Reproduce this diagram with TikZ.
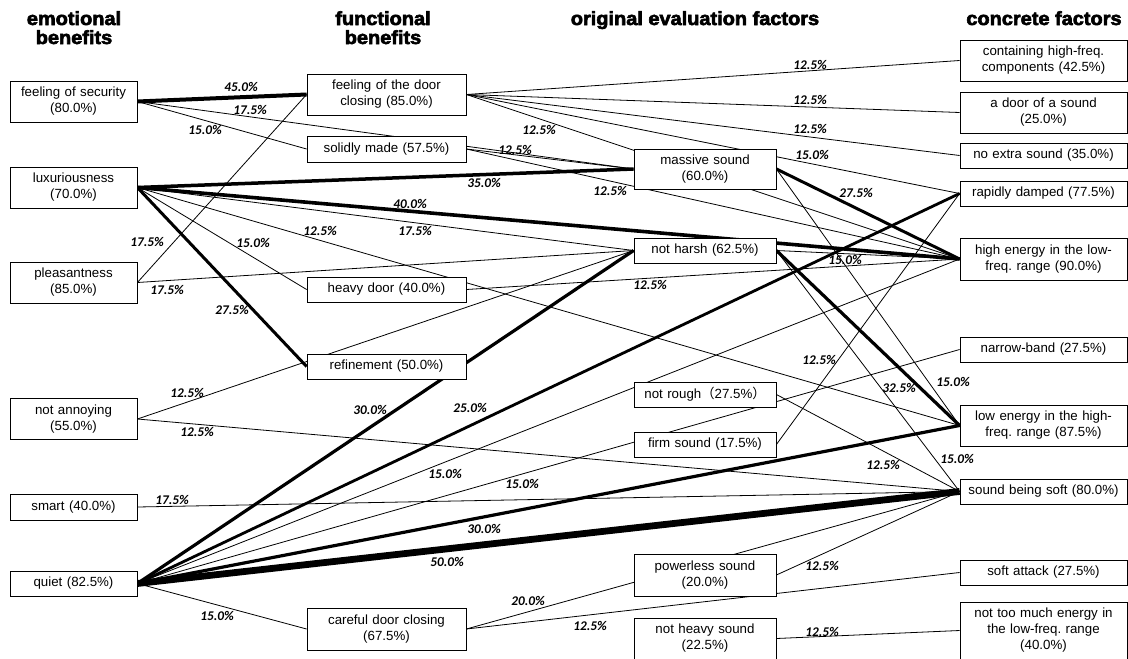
\documentclass[tikz,border=0pt]{standalone}
\usepackage{fontspec}
\setmainfont{Liberation Sans}
\newfontfamily\lblfont{Carlito}
\newfontfamily\hdrfont{Liberation Sans Bold}[FakeBold=3.2,FakeStretch=1.05]
\newfontfamily\cjkfont{Noto Sans CJK SC}
\usetikzlibrary{backgrounds}
\frenchspacing
\tikzset{
  box/.style={draw, line width=0.8pt, fill=white, inner sep=0pt, align=center,
    font=\fontsize{13.3}{16}\selectfont},
  ca/.style={box, minimum width=127pt, text width=122pt},
  cb/.style={box, minimum width=159pt, text width=154pt},
  cc/.style={box, minimum width=142pt, text width=138pt},
  cd/.style={box, minimum width=167pt, text width=162pt},
  hdr/.style={anchor=base, inner sep=0pt, font=\hdrfont\fontsize{19}{19}\selectfont},
  lbl/.style={inner sep=0pt, font=\lblfont\bfseries\itshape\fontsize{13.3}{15}\selectfont},
  ln/.style={line width=0.8pt},
  w25/.style={line width=2.8pt},
  w275/.style={line width=3pt},
  w30/.style={line width=3.2pt},
  w325/.style={line width=3.2pt},
  w35/.style={line width=3.5pt},
  w40/.style={line width=3.6pt},
  w45/.style={line width=4pt},
  w50/.style={line width=6.8pt},
}
\begin{document}
\begin{tikzpicture}[x=1pt,y=-1pt]
\useasboundingbox (0,0) rectangle (1128,659);
% headers
\node[hdr] (h1a) at (74,25) {emotional};
\node[hdr] (h1b) at (74,44) {benefits};
\node[hdr] (h2a) at (383,25) {functional};
\node[hdr] (h2b) at (383,44) {benefits};
\node[hdr] (h3) at (695,25) {original evaluation factors};
\node[hdr] (h4) at (1044,25) {concrete factors};
% column 1
\node[ca, minimum height=41pt] (sec) at (73.5,101.5) {feeling of security\\(80.0\%)};
\node[ca, minimum height=41pt] (lux) at (73.5,187.5) {luxuriousness\\(70.0\%)};
\node[ca, minimum height=41pt] (ple) at (73.5,282.5) {pleasantness\\(85.0\%)};
\node[ca, minimum height=41pt] (nan) at (73.5,419) {not annoying\\(55.0\%)};
\node[ca, minimum height=26pt] (sma) at (73.5,507) {smart (40.0\%)};
\node[ca, minimum height=25pt] (qui) at (73.5,583.5) {quiet (82.5\%)};
% column 2
\node[cb, minimum height=41pt] (dcl) at (386.5,94.5) {feeling of the door\\closing (85.0\%)};
\node[cb, minimum height=26pt] (sol) at (386.5,149) {solidly made (57.5\%)};
\node[cb, minimum height=25pt] (hea) at (386.5,289.5) {heavy door (40.0\%)};
\node[cb, minimum height=25pt] (ref) at (386.5,366.5) {refinement (50.0\%)};
\node[cb, minimum height=42pt] (car) at (386.5,629) {careful door closing\\(67.5\%)};
% column 3
\node[cc, minimum height=40pt] (mas) at (705,169) {massive sound\\(60.0\%)};
\node[cc, minimum height=25pt] (nha) at (705,250.5) {not harsh (62.5\%)};
\node[cc, minimum height=25pt] (nro) at (705,394.5) {not rough{\cjkfont（}27.5\%{\cjkfont）}};
\node[cc, minimum height=25pt] (fir) at (705,444.5) {firm sound (17.5\%)};
\node[cc, minimum height=42pt] (pow) at (705,575) {powerless sound\\(20.0\%)};
\node[cc, minimum height=41pt] (nhe) at (705,638.5) {not heavy sound\\(22.5\%)};
% column 4
\node[cd, minimum height=41pt] (chf) at (1043.5,60.5) {containing high-freq.\\components (42.5\%)};
\node[cd, minimum height=41pt] (dos) at (1043.5,112.5) {a door of a sound\\(25.0\%)};
\node[cd, minimum height=25pt] (nex) at (1043.5,155.5) {no extra sound (35.0\%)};
\node[cd, minimum height=25pt] (rap) at (1043.5,193.5) {rapidly damped (77.5\%)};
\node[cd, minimum height=42pt] (hel) at (1043.5,259) {high energy in the low-\\freq. range (90.0\%)};
\node[cd, minimum height=25pt] (nar) at (1043.5,349.5) {narrow-band (27.5\%)};
\node[cd, minimum height=41pt] (leh) at (1043.5,425.5) {low energy in the high-\\freq. range (87.5\%)};
\node[cd, minimum height=25pt] (sof) at (1043.5,491.5) {sound being soft (80.0\%)};
\node[cd, minimum height=25pt] (sat) at (1043.5,572.5) {soft attack (27.5\%)};
\node[cd, minimum height=57pt] (ntm) at (1043.5,630.5) {not too much energy in\\the low-freq. range\\(40.0\%)};
% connectors
\begin{scope}[on background layer]
\draw[w45] (sec.east) -- (dcl.west);
\draw[ln] (sec.east) -- (mas.west);
\draw[ln] (sec.east) -- (sol.west);
\draw[w35] (lux.east) -- (mas.west);
\draw[w40] (lux.east) -- (hel.west);
\draw[ln] (lux.east) -- (nha.west);
\draw[ln] (lux.east) -- (leh.west);
\draw[ln] (lux.east) -- (hea.west);
\draw[w275] (lux.east) -- (ref.west);
\draw[ln] (ple.east) -- (dcl.west);
\draw[ln] (ple.east) -- (nha.west);
\draw[ln] (nan.east) -- (nha.west);
\draw[ln] (nan.east) -- (sof.west);
\draw[ln] (sma.east) -- (sof.west);
\draw[w30] (qui.east) -- (nha.west);
\draw[w25] (qui.east) -- (rap.west);
\draw[ln] (qui.east) -- (hel.west);
\draw[ln] (qui.east) -- (nar.west);
\draw[w30] (qui.east) -- (leh.west);
\draw[w50] (qui.east) -- (sof.west);
\draw[ln] (qui.east) -- (car.west);
\draw[ln] (dcl.east) -- (chf.west);
\draw[ln] (dcl.east) -- (dos.west);
\draw[ln] (dcl.east) -- (nex.west);
\draw[ln] (dcl.east) -- (rap.west);
\draw[ln] (dcl.east) -- (hel.west);
\draw[ln] (sol.east) -- (mas.west);
\draw[ln] (sol.east) -- (hel.west);
\draw[ln] (hea.east) -- (hel.west);
\draw[ln] (car.east) -- (sof.west);
\draw[ln] (car.east) -- (sat.west);
\draw[w275] (mas.east) -- (hel.west);
\draw[ln] (mas.east) -- (leh.west);
\draw[w325] (nha.east) -- (leh.west);
\draw[ln] (nha.east) -- (sof.west);
\draw[ln] (nha.east) -- (hel.west);
\draw[ln] (nro.east) -- (sof.west);
\draw[ln] (fir.east) -- (rap.west);
\draw[ln] (pow.east) -- (sof.west);
\draw[ln] (nhe.east) -- (ntm.west);
\end{scope}
% labels
\node[lbl] (l1) at (241,87) {45.0\%};
\node[lbl] (l2) at (250,110) {17.5\%};
\node[lbl] (l3) at (205,130) {15.0\%};
\node[lbl] (l4) at (810,65) {12.5\%};
\node[lbl] (l5) at (810,100) {12.5\%};
\node[lbl] (l6) at (810,129) {12.5\%};
\node[lbl] (l7) at (812,155) {15.0\%};
\node[lbl] (l8) at (539,130) {12.5\%};
\node[lbl] (l9) at (515,150) {12.5\%};
\node[lbl] (l10) at (484,183) {35.0\%};
\node[lbl] (l11) at (610,191) {12.5\%};
\node[lbl] (l12) at (856,193) {27.5\%};
\node[lbl] (l13) at (410,204) {40.0\%};
\node[lbl] (l14) at (415,231) {17.5\%};
\node[lbl] (l15) at (320,231) {12.5\%};
\node[lbl] (l16) at (253,243) {15.0\%};
\node[lbl] (l17) at (147,242) {17.5\%};
\node[lbl] (l18) at (167,290) {17.5\%};
\node[lbl] (l19) at (232,310) {27.5\%};
\node[lbl] (l20) at (650,285) {12.5\%};
\node[lbl] (l21) at (845,260) {15.0\%};
\node[lbl] (l22) at (187,393) {12.5\%};
\node[lbl] (l23) at (197,432) {12.5\%};
\node[lbl] (l24) at (370,410) {30.0\%};
\node[lbl] (l25) at (470,408) {25.0\%};
\node[lbl] (l26) at (819,360) {12.5\%};
\node[lbl] (l27) at (899,388) {32.5\%};
\node[lbl] (l28) at (953,382) {15.0\%};
\node[lbl] (l29) at (445,474) {15.0\%};
\node[lbl] (l30) at (522,484) {15.0\%};
\node[lbl] (l31) at (172,500) {17.5\%};
\node[lbl] (l32) at (883,465) {12.5\%};
\node[lbl] (l33) at (957,459) {15.0\%};
\node[lbl] (l34) at (484,529) {30.0\%};
\node[lbl] (l35) at (447,562) {50.0\%};
\node[lbl] (l36) at (217,616) {15.0\%};
\node[lbl] (l37) at (528,601) {20.0\%};
\node[lbl] (l38) at (590,626) {12.5\%};
\node[lbl] (l39) at (822,566) {12.5\%};
\node[lbl] (l40) at (822,632) {12.5\%};
\end{tikzpicture}
\end{document}
